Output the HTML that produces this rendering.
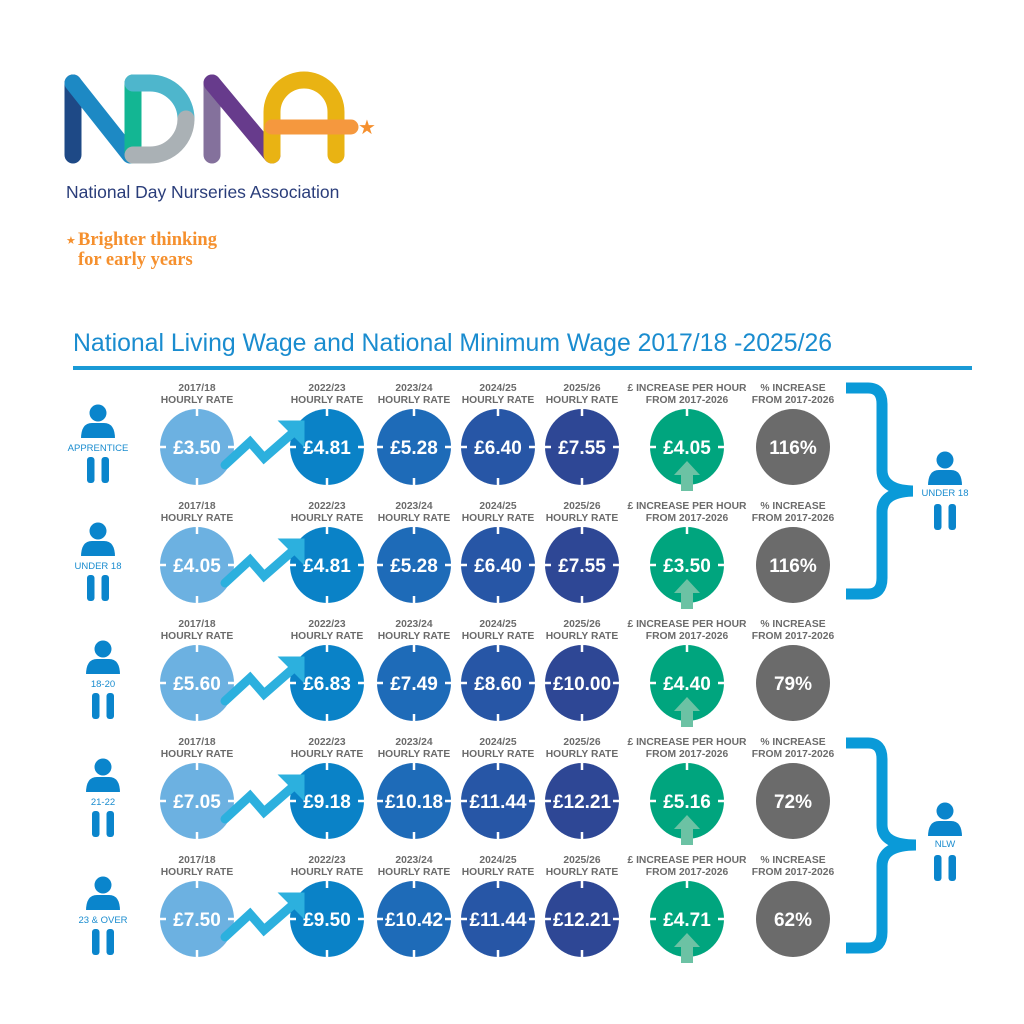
<!DOCTYPE html>
<html><head><meta charset="utf-8"><style>
html,body{margin:0;padding:0;background:#fff;}
svg{display:block;font-family:"Liberation Sans",sans-serif;}
.h{font-size:10.3px;font-weight:bold;fill:#6b6b6b;text-anchor:middle;}
.v{font-size:19px;font-weight:bold;fill:#fff;text-anchor:middle;}
.pl{font-size:9.5px;fill:#1a8ccf;text-anchor:middle;}
</style></head><body>
<svg width="1024" height="1024" viewBox="0 0 1024 1024" xmlns="http://www.w3.org/2000/svg" xmlns:xlink="http://www.w3.org/1999/xlink">
<defs>
<g id="ticks" stroke="#fff" stroke-width="2.5">
<line x1="0" y1="-40" x2="0" y2="-31"/><line x1="0" y1="31" x2="0" y2="40"/>
<line x1="-40" y1="0" x2="-31" y2="0"/><line x1="31" y1="0" x2="40" y2="0"/>
</g>
<g id="person" fill="#0a85cc">
<circle cx="0" cy="-34" r="8.5"/>
<path d="M-17,-8 Q-17,-24 -6,-24 L6,-24 Q17,-24 17,-8 Z"/>
<rect x="-11" y="10" width="7.5" height="26" rx="3"/>
<rect x="3.5" y="10" width="7.5" height="26" rx="3"/>
</g>
<g id="hdr" class="h">
<text class="h" x="197" y="-56">2017/18</text><text class="h" x="197" y="-44">HOURLY RATE</text>
<text class="h" x="327" y="-56">2022/23</text><text class="h" x="327" y="-44">HOURLY RATE</text>
<text class="h" x="414" y="-56">2023/24</text><text class="h" x="414" y="-44">HOURLY RATE</text>
<text class="h" x="498" y="-56">2024/25</text><text class="h" x="498" y="-44">HOURLY RATE</text>
<text class="h" x="582" y="-56">2025/26</text><text class="h" x="582" y="-44">HOURLY RATE</text>
<text class="h" x="687" y="-56">£ INCREASE PER HOUR</text><text class="h" x="687" y="-44">FROM 2017-2026</text>
<text class="h" x="793" y="-56">% INCREASE</text><text class="h" x="793" y="-44">FROM 2017-2026</text>
</g>
<g id="rowbg">
<ellipse cx="197" cy="0" rx="37" ry="38" fill="#6cb1e1"/>
<ellipse cx="327" cy="0" rx="37" ry="38" fill="#0a82c7"/>
<ellipse cx="414" cy="0" rx="37" ry="38" fill="#1e6bb8"/>
<ellipse cx="498" cy="0" rx="37" ry="38" fill="#2756a6"/>
<ellipse cx="582" cy="0" rx="37" ry="38" fill="#2e4795"/>
<ellipse cx="687" cy="0" rx="37" ry="38" fill="#00a57e"/>
<ellipse cx="793" cy="0" rx="37" ry="38" fill="#6b6b6b"/>
<use xlink:href="#ticks" x="197" y="0"/>
<use xlink:href="#ticks" x="327" y="0"/>
<use xlink:href="#ticks" x="414" y="0"/>
<use xlink:href="#ticks" x="498" y="0"/>
<use xlink:href="#ticks" x="582" y="0"/>
<use xlink:href="#ticks" x="687" y="0"/>
<path d="M681,44 L681,28 L674,28 L687,14 L700,28 L693,28 L693,44 Z" fill="#6cc2a4"/>
<polyline points="225,18 250,-5 264,11 296,-17" fill="none" stroke="#2cb0de" stroke-width="9" stroke-linecap="round"/>
<path d="M286,-23 L301,-23 L301,-8 Z" fill="#2cb0de" stroke="#2cb0de" stroke-width="7"/>
</g>
</defs>

<g stroke-linecap="round" fill="none" stroke-width="17" opacity="0.92">
<line x1="73" y1="83" x2="73" y2="155" stroke="#0b3a7c"/>
<line x1="73" y1="83" x2="130" y2="155" stroke="#0a80c0"/>
<line x1="133" y1="83" x2="133" y2="155" stroke="#00b08a"/>
<path d="M133,83 L150,83 A36,36 0 0 1 186,119" stroke="#3fb0c8"/>
<path d="M186,119 A36,36 0 0 1 150,155 L133,155" stroke="#a3abaf"/>
<line x1="212" y1="83" x2="212" y2="155" stroke="#7a6594"/>
<line x1="212" y1="83" x2="272" y2="155" stroke="#5b2b83"/>
<path d="M272,155 L272,112 A32,32 0 0 1 336,112 L336,155" stroke="#e8ad00"/>
<line x1="272" y1="127" x2="351" y2="127" stroke="#f5902e" stroke-width="15"/>
</g>
<text x="367" y="134" font-size="20" fill="#f5902e" text-anchor="middle">★</text>
<text x="66" y="198" font-size="17.5" fill="#2a3d7a">National Day Nurseries Association</text>
<text x="66" y="244" font-size="11" fill="#f5902e">★</text>
<text x="78" y="245" font-size="18.5" font-weight="bold" fill="#f5902e" font-family="Liberation Serif,serif">Brighter thinking</text>
<text x="78" y="265" font-size="18.5" font-weight="bold" fill="#f5902e" font-family="Liberation Serif,serif">for early years</text>

<text x="73" y="351" font-size="24.8" fill="#1a8ccf">National Living Wage and National Minimum Wage 2017/18 -2025/26</text>
<rect x="73" y="366" width="899" height="4" fill="#1a9ad6"/>

<g transform="translate(0,447)">
<use xlink:href="#hdr"/><use xlink:href="#rowbg"/>
<use xlink:href="#person" x="98" y="0"/>
<rect x="64" y="-9" width="68" height="13" fill="#fff"/>
<text class="pl" x="98" y="4">APPRENTICE</text>
<text class="v" x="197" y="7">£3.50</text><text class="v" x="327" y="7">£4.81</text><text class="v" x="414" y="7">£5.28</text><text class="v" x="498" y="7">£6.40</text><text class="v" x="582" y="7">£7.55</text><text class="v" x="687" y="7">£4.05</text><text class="v" x="793" y="7" font-size="18">116%</text>
</g>
<g transform="translate(0,565)">
<use xlink:href="#hdr"/><use xlink:href="#rowbg"/>
<use xlink:href="#person" x="98" y="0"/>
<rect x="68" y="-9" width="60" height="13" fill="#fff"/>
<text class="pl" x="98" y="4">UNDER 18</text>
<text class="v" x="197" y="7">£4.05</text><text class="v" x="327" y="7">£4.81</text><text class="v" x="414" y="7">£5.28</text><text class="v" x="498" y="7">£6.40</text><text class="v" x="582" y="7">£7.55</text><text class="v" x="687" y="7">£3.50</text><text class="v" x="793" y="7" font-size="18">116%</text>
</g>
<g transform="translate(0,683)">
<use xlink:href="#hdr"/><use xlink:href="#rowbg"/>
<use xlink:href="#person" x="103" y="0"/>
<rect x="82" y="-9" width="42" height="13" fill="#fff"/>
<text class="pl" x="103" y="4">18-20</text>
<text class="v" x="197" y="7">£5.60</text><text class="v" x="327" y="7">£6.83</text><text class="v" x="414" y="7">£7.49</text><text class="v" x="498" y="7">£8.60</text><text class="v" x="582" y="7" font-size="18">£10.00</text><text class="v" x="687" y="7">£4.40</text><text class="v" x="793" y="7" font-size="18">79%</text>
</g>
<g transform="translate(0,801)">
<use xlink:href="#hdr"/><use xlink:href="#rowbg"/>
<use xlink:href="#person" x="103" y="0"/>
<rect x="82" y="-9" width="42" height="13" fill="#fff"/>
<text class="pl" x="103" y="4">21-22</text>
<text class="v" x="197" y="7">£7.05</text><text class="v" x="327" y="7">£9.18</text><text class="v" x="414" y="7" font-size="18">£10.18</text><text class="v" x="498" y="7" font-size="18">£11.44</text><text class="v" x="582" y="7" font-size="18">£12.21</text><text class="v" x="687" y="7">£5.16</text><text class="v" x="793" y="7" font-size="18">72%</text>
</g>
<g transform="translate(0,919)">
<use xlink:href="#hdr"/><use xlink:href="#rowbg"/>
<use xlink:href="#person" x="103" y="0"/>
<rect x="68" y="-9" width="70" height="13" fill="#fff"/>
<text class="pl" x="103" y="4">23 &amp; OVER</text>
<text class="v" x="197" y="7">£7.50</text><text class="v" x="327" y="7">£9.50</text><text class="v" x="414" y="7" font-size="18">£10.42</text><text class="v" x="498" y="7" font-size="18">£11.44</text><text class="v" x="582" y="7" font-size="18">£12.21</text><text class="v" x="687" y="7">£4.71</text><text class="v" x="793" y="7" font-size="18">62%</text>
</g>

<g fill="none" stroke="#0a9ad8" stroke-width="11">
<path d="M846,388 L868,388 Q882,388 882,404 L882,470 Q882,491 916,491 M916,491 Q882,491 882,512 L882,578 Q882,594 868,594 L846,594"/>
<path d="M846,743 L868,743 Q882,743 882,759 L882,825 Q882,845 916,845 M916,845 Q882,845 882,866 L882,932 Q882,948 868,948 L846,948"/>
</g>
<use xlink:href="#person" x="945" y="494"/>
<rect x="913" y="485" width="64" height="13" fill="#fff"/>
<text class="pl" x="945" y="496">UNDER 18</text>
<use xlink:href="#person" x="945" y="845"/>
<rect x="920" y="836" width="50" height="13" fill="#fff"/>
<text class="pl" x="945" y="847">NLW</text>
</svg>
</body></html>
